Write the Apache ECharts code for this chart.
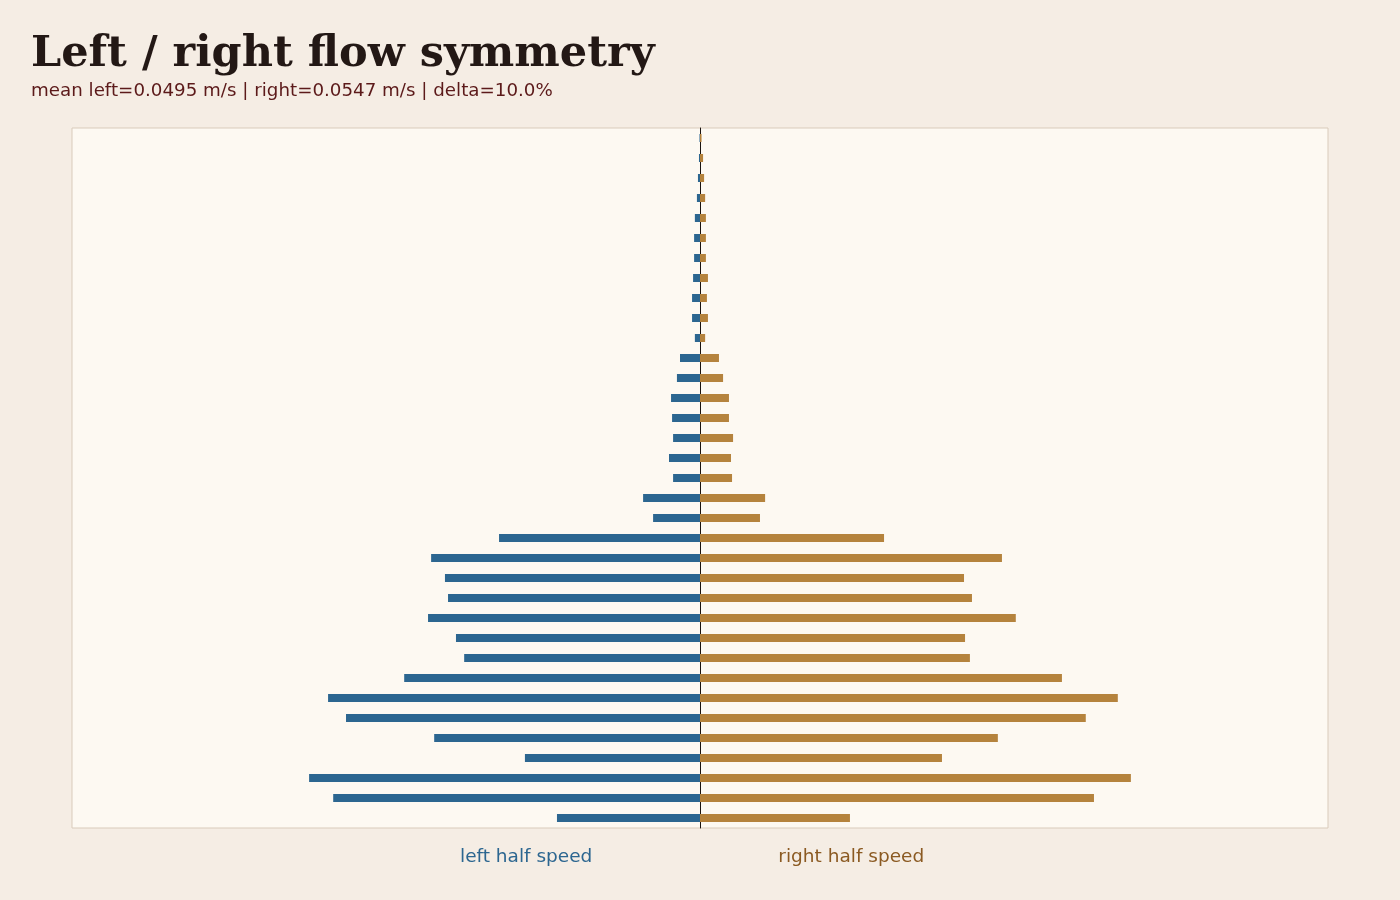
<!DOCTYPE html>
<html>
<head>
<meta charset="utf-8">
<title>Left / right flow symmetry</title>
<script src="https://cdn.jsdelivr.net/npm/echarts@6/dist/echarts.min.js"></script>
<style>
    html, body { margin: 0; padding: 0; background: #f5ede4; }
    #chart { width: 1400px; height: 900px; }
</style>
</head>
<body>
<div id="chart"></div>
<script>
    // bins, top to bottom
    var bins = ['1', '2', '3', '4', '5', '6', '7', '8', '9', '10',
        '11', '12', '13', '14', '15', '16', '17', '18', '19', '20',
        '21', '22', '23', '24', '25', '26', '27', '28', '29', '30',
        '31', '32', '33', '34', '35'];

    // left half speed, m/s (drawn to the left)
    var leftSpeed = [0.0002, 0.0004, 0.0008, 0.0012, 0.0020, 0.0023, 0.0023, 0.0027, 0.0031, 0.0031,
        0.0020, 0.0078, 0.0090, 0.0113, 0.0109, 0.0105, 0.0121, 0.0105, 0.0222, 0.0183,
        0.0784, 0.1049, 0.0995, 0.0983, 0.1061, 0.0952, 0.0920, 0.1154, 0.1451, 0.1381,
        0.1037, 0.0683, 0.1525, 0.1431, 0.0558];

    // right half speed, m/s
    var rightSpeed = [0.0006, 0.0012, 0.0016, 0.0020, 0.0023, 0.0023, 0.0023, 0.0031, 0.0027, 0.0031,
        0.0020, 0.0074, 0.0090, 0.0113, 0.0113, 0.0129, 0.0121, 0.0125, 0.0254, 0.0234,
        0.0718, 0.1178, 0.1030, 0.1061, 0.1232, 0.1034, 0.1053, 0.1412, 0.1630, 0.1505,
        0.1162, 0.0944, 0.1681, 0.1537, 0.0585];

    var axisMax = 0.245;

    var chart = echarts.init(document.getElementById('chart'));

    var option = {
        backgroundColor: '#f5ede4',
        animation: false,
        title: {
            text: 'Left / right flow symmetry',
            subtext: 'mean left=0.0495 m/s | right=0.0547 m/s | delta=10.0%',
            left: 26,
            top: 28,
            itemGap: 6,
            textStyle: {
                fontFamily: '"DejaVu Serif", Georgia, serif',
                fontWeight: 'bold',
                fontSize: 43,
                color: '#231815'
            },
            subtextStyle: {
                fontFamily: '"DejaVu Sans", sans-serif',
                fontSize: 18.25,
                color: '#5c1a1a'
            }
        },
        legend: {
            top: 843,
            left: 425,
            icon: 'none',
            itemGap: 156,
            textStyle: {
                fontFamily: '"DejaVu Sans", sans-serif',
                fontSize: 18.5
            },
            data: [
                {name: 'left half speed', textStyle: {color: '#2c6690'}},
                {name: 'right half speed', textStyle: {color: '#8b5a22'}}
            ]
        },
        grid: {
            left: 72,
            right: 72,
            top: 128,
            bottom: 72,
            show: true,
            backgroundColor: '#fdf9f2',
            borderColor: '#d9cbbb',
            borderWidth: 1
        },
        xAxis: {
            type: 'value',
            min: -axisMax,
            max: axisMax,
            axisLabel: {show: false},
            axisTick: {show: false},
            axisLine: {show: false},
            splitLine: {show: false}
        },
        yAxis: {
            type: 'category',
            data: bins,
            inverse: true,
            axisLabel: {show: false},
            axisTick: {show: false},
            axisLine: {
                show: true,
                onZero: true,
                lineStyle: {color: '#1a1410', width: 1}
            }
        },
        series: [
            {
                name: 'left half speed',
                type: 'bar',
                barWidth: 8,
                barGap: '-100%',
                itemStyle: {color: '#2c6690'},
                data: leftSpeed.map(function (v) { return -v; })
            },
            {
                name: 'right half speed',
                type: 'bar',
                barWidth: 8,
                itemStyle: {color: '#b5833d'},
                data: rightSpeed
            }
        ]
    };

    chart.setOption(option);
</script>
</body>
</html>
